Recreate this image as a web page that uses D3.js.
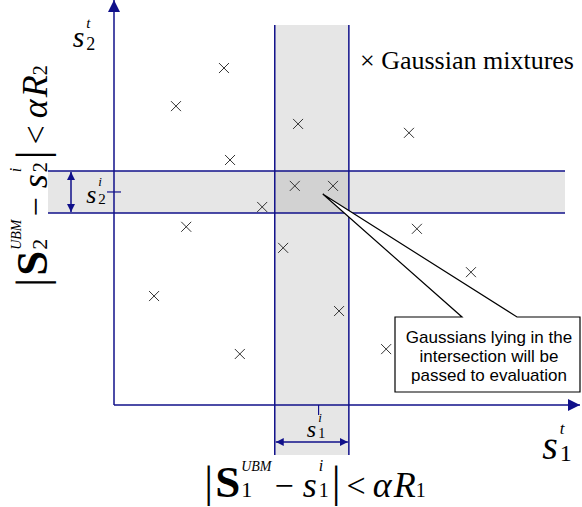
<!DOCTYPE html>
<html>
<head>
<meta charset="utf-8">
<script src="https://cdn.jsdelivr.net/npm/d3@7"></script>
<style>
  body { margin: 0; background: #fff; }
  svg { display: block; }
</style>
</head>
<body>
<div id="chart"></div>
<script>
// gaussian mixture centres (s1, s2) in axis units 0..100
var mixS1 = [23.6, 13.3, 39.5, 63.3, 24.9, 38.8, 47.0, 31.8, 15.5, 65.0, 36.3, 76.6, 8.6, 48.3, 58.4, 27.0];
var mixS2 = [83.2, 73.8, 69.4, 67.2, 60.5, 54.1, 54.1, 48.9, 44.0, 43.5, 38.8, 32.8, 26.9, 23.2, 13.8, 12.6];

// search windows around the test vector s^i
var bandS1 = [34.5, 50.4];
var bandS2 = [47.4, 57.8];
var s1i = 43.9;
var s2i = 52.6;
var calloutTip = [44.8, 52.1];

var legendText = "\u00d7 Gaussian mixtures";
var calloutLines = ["Gaussians lying in the", "intersection will be", "passed to evaluation"];

var w = 582, h = 507;
var navy = "#10108a";
var serif = "'Liberation Serif', 'Times New Roman', serif";
var sans = "'Liberation Sans', Arial, sans-serif";

var svg = d3.select("#chart").append("svg")
  .attr("width", w)
  .attr("height", h);

var x = d3.scaleLinear().domain([0, 100]).range([114, 580]);
var y = d3.scaleLinear().domain([0, 100]).range([405, 0]);

var defs = svg.append("defs");
defs.append("marker")
  .attr("id", "axhead")
  .attr("viewBox", "0 0 12 12")
  .attr("refX", 12).attr("refY", 6)
  .attr("markerWidth", 12).attr("markerHeight", 12)
  .attr("markerUnits", "userSpaceOnUse")
  .attr("orient", "auto-start-reverse")
  .append("path").attr("d", "M0,0L12,6L0,12Z").attr("fill", navy);
defs.append("marker")
  .attr("id", "smhead")
  .attr("viewBox", "0 0 8 8")
  .attr("refX", 8).attr("refY", 4)
  .attr("markerWidth", 8).attr("markerHeight", 8)
  .attr("markerUnits", "userSpaceOnUse")
  .attr("orient", "auto-start-reverse")
  .append("path").attr("d", "M0,0L8,4L0,8Z").attr("fill", navy);

// shaded bands
var vTop = 25, vBot = 455, hLeft = 48, hRight = 565;
svg.append("rect")
  .attr("x", x(bandS1[0])).attr("y", vTop)
  .attr("width", x(bandS1[1]) - x(bandS1[0])).attr("height", vBot - vTop)
  .attr("fill", "#e6e6e6");
svg.append("rect")
  .attr("x", hLeft).attr("y", y(bandS2[1]))
  .attr("width", hRight - hLeft).attr("height", y(bandS2[0]) - y(bandS2[1]))
  .attr("fill", "#e6e6e6");
svg.append("rect")
  .attr("x", x(bandS1[0])).attr("y", y(bandS2[1]))
  .attr("width", x(bandS1[1]) - x(bandS1[0])).attr("height", y(bandS2[0]) - y(bandS2[1]))
  .attr("fill", "#d2d2d2");

svg.append("g").selectAll("line.vb")
  .data(bandS1).enter().append("line")
  .attr("x1", function(d) { return x(d); }).attr("x2", function(d) { return x(d); })
  .attr("y1", vTop).attr("y2", vBot)
  .attr("stroke", navy).attr("stroke-width", 1.5);
svg.append("g").selectAll("line.hb")
  .data(bandS2).enter().append("line")
  .attr("y1", function(d) { return y(d); }).attr("y2", function(d) { return y(d); })
  .attr("x1", hLeft).attr("x2", hRight)
  .attr("stroke", navy).attr("stroke-width", 1.5);

// axes
svg.append("line")
  .attr("x1", x(0)).attr("y1", y(0)).attr("x2", x(100)).attr("y2", y(0))
  .attr("stroke", navy).attr("stroke-width", 1.5)
  .attr("marker-end", "url(#axhead)");
svg.append("line")
  .attr("x1", x(0)).attr("y1", y(0)).attr("x2", x(0)).attr("y2", y(100))
  .attr("stroke", navy).attr("stroke-width", 1.5)
  .attr("marker-end", "url(#axhead)");

// s^i ticks
svg.append("line")
  .attr("x1", x(s1i)).attr("x2", x(s1i)).attr("y1", y(0)).attr("y2", y(0) + 10)
  .attr("stroke", navy).attr("stroke-width", 1.2);
svg.append("line")
  .attr("x1", x(0) - 7).attr("x2", x(0) + 7).attr("y1", y(s2i)).attr("y2", y(s2i))
  .attr("stroke", navy).attr("stroke-width", 1.2);

// window width arrows
svg.append("line")
  .attr("x1", x(bandS1[0]) + 1).attr("x2", x(bandS1[1]) - 1)
  .attr("y1", 442).attr("y2", 442)
  .attr("stroke", navy).attr("stroke-width", 1.5)
  .attr("marker-start", "url(#smhead)").attr("marker-end", "url(#smhead)");
svg.append("line")
  .attr("x1", 71).attr("x2", 71)
  .attr("y1", y(bandS2[1]) + 1).attr("y2", y(bandS2[0]) - 1)
  .attr("stroke", navy).attr("stroke-width", 1.5)
  .attr("marker-start", "url(#smhead)").attr("marker-end", "url(#smhead)");

// mixtures
svg.append("g").selectAll("path")
  .data(d3.zip(mixS1, mixS2)).enter().append("path")
  .attr("transform", function(d) { return "translate(" + x(d[0]) + "," + y(d[1]) + ")"; })
  .attr("d", "M-5,-5L5,5M-5,5L5,-5")
  .attr("stroke", "#333").attr("stroke-width", 1)
  .attr("fill", "none");

// callout
var bx0 = 395, bx1 = 580, by0 = 317, by1 = 392;
var tx = x(calloutTip[0]), ty = y(calloutTip[1]);
svg.append("path")
  .attr("d", "M" + bx0 + "," + by0 + "L462," + by0 + "L" + tx + "," + ty +
    "L517," + by0 + "L" + bx1 + "," + by0 + "L" + bx1 + "," + by1 + "L" + bx0 + "," + by1 + "Z")
  .attr("fill", "#fff").attr("stroke", "#000").attr("stroke-width", 1.2);
svg.append("g").selectAll("text")
  .data(calloutLines).enter().append("text")
  .attr("x", 489).attr("y", function(d, i) { return 343 + i * 19; })
  .attr("text-anchor", "middle")
  .style("font-family", sans).style("font-size", "17px")
  .text(function(d) { return d; });

// legend
svg.append("text")
  .attr("x", 360).attr("y", 69)
  .style("font-family", serif).style("font-size", "26px")
  .text(legendText);

// math labels: one text per label, pieces as tspans, centred on (cx, cy) baseline
function drawMath(pieces, cx, cy, rotate) {
  var g = svg.append("g");
  var txt = g.append("text").style("font-family", serif);
  var px = 0, lastW = 0;
  pieces.forEach(function(p) {
    px += p.gap || 0;
    var t = txt.append("tspan")
      .attr("x", px).attr("y", p.dy || 0)
      .style("font-size", p.size + "px")
      .style("font-style", p.it ? "italic" : "normal")
      .style("font-weight", p.b ? "bold" : "normal")
      .text(p.t);
    var tw = t.node().getComputedTextLength();
    if (p.stack) { lastW = tw; }
    else { px += Math.max(tw, lastW); lastW = 0; }
  });
  txt.attr("transform", "translate(" + (-px / 2) + ",0)");
  g.attr("transform", "translate(" + cx + "," + cy + ")" + (rotate ? " rotate(-90)" : ""));
}

function windowLabel(k) {
  return [
    {t: "|", size: 44},
    {t: "S", size: 45, b: true, gap: 2},
    {t: "UBM", size: 14, it: true, dy: -26, stack: true, gap: 1},
    {t: k, size: 22},
    {t: "\u2212", size: 34, gap: 3},
    {t: "s", size: 36, it: true, gap: 9},
    {t: "i", size: 16, it: true, dy: -26, stack: true, gap: 2},
    {t: k, size: 20},
    {t: "|", size: 44, gap: 3},
    {t: "<", size: 34, gap: 6},
    {t: "\u03b1", size: 36, it: true, gap: 7},
    {t: "R", size: 36, it: true, gap: 2},
    {t: k, size: 20}
  ];
}

drawMath(windowLabel("1"), 315, 497, false);
drawMath(windowLabel("2"), 47, 176, true);

drawMath([
  {t: "s", size: 30, it: true},
  {t: "t", size: 15, it: true, dy: -19, stack: true, gap: 2},
  {t: "2", size: 18, dy: 3}
], 84, 47, false);
drawMath([
  {t: "s", size: 40, it: true},
  {t: "t", size: 17, it: true, dy: -25, stack: true, gap: 2},
  {t: "1", size: 24, dy: 2}
], 557, 459, false);
drawMath([
  {t: "s", size: 26, it: true},
  {t: "i", size: 13, it: true, dy: -17, stack: true, gap: 2},
  {t: "2", size: 15, dy: 1}
], 96, 203, false);
drawMath([
  {t: "s", size: 24, it: true},
  {t: "i", size: 13, it: true, dy: -15, stack: true, gap: 2},
  {t: "1", size: 14, dy: 1}
], 316, 437, false);
</script>
</body>
</html>
